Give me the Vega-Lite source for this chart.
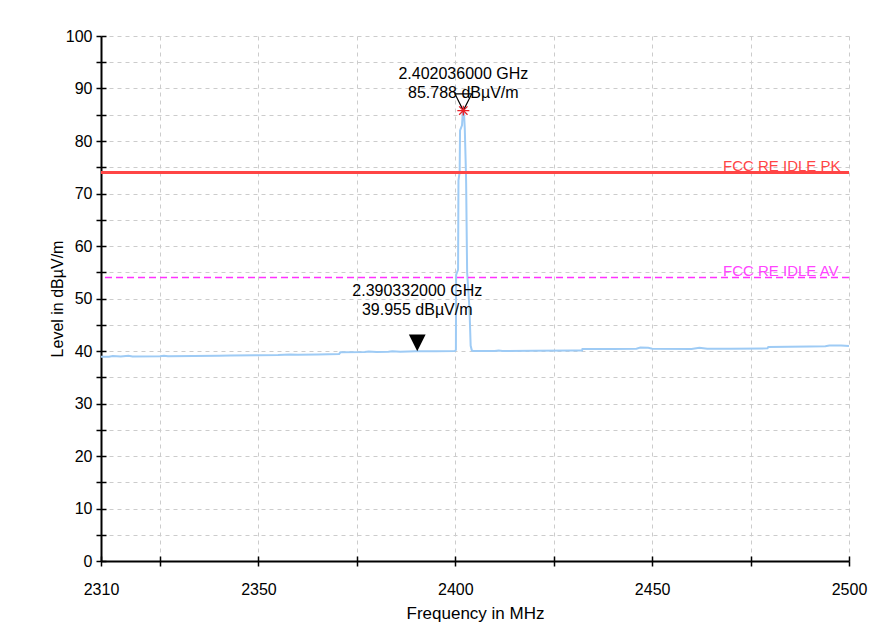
{
  "$schema": "https://vega.github.io/schema/vega-lite/v6.json",
  "width": 748,
  "height": 525,
  "autosize": {"type": "none"},
  "padding": {"left": 101, "top": 36, "right": 28, "bottom": 63},
  "background": "white",
  "config": {
    "font": "Liberation Sans",
    "view": {"stroke": null},
    "text": {"font": "Liberation Sans"}
  },
  "datasets": {
    "trace": [
      {"freq": 2310, "level": 38.9}, {"freq": 2312, "level": 38.9}, {"freq": 2313, "level": 39.05},
      {"freq": 2315, "level": 38.95}, {"freq": 2317, "level": 39.1}, {"freq": 2318, "level": 38.95},
      {"freq": 2325, "level": 39.0}, {"freq": 2326, "level": 39.1}, {"freq": 2327, "level": 39.0},
      {"freq": 2340, "level": 39.1}, {"freq": 2343, "level": 39.15}, {"freq": 2350, "level": 39.2},
      {"freq": 2355, "level": 39.25}, {"freq": 2358, "level": 39.35}, {"freq": 2360, "level": 39.3},
      {"freq": 2365, "level": 39.35}, {"freq": 2370.5, "level": 39.45}, {"freq": 2370.8, "level": 39.75},
      {"freq": 2377, "level": 39.8}, {"freq": 2378, "level": 39.9}, {"freq": 2380, "level": 39.8},
      {"freq": 2383, "level": 39.85}, {"freq": 2384, "level": 39.95}, {"freq": 2386, "level": 39.85},
      {"freq": 2390, "level": 39.95}, {"freq": 2395, "level": 39.95}, {"freq": 2399.9, "level": 40.0},
      {"freq": 2400.15, "level": 40.2}, {"freq": 2400.2, "level": 54.5}, {"freq": 2400.7, "level": 55.5},
      {"freq": 2400.8, "level": 72.5}, {"freq": 2401.1, "level": 74}, {"freq": 2401.2, "level": 82},
      {"freq": 2401.7, "level": 83}, {"freq": 2401.9, "level": 85.5}, {"freq": 2402.036, "level": 85.788},
      {"freq": 2402.2, "level": 85.3}, {"freq": 2402.4, "level": 82.5}, {"freq": 2402.7, "level": 74},
      {"freq": 2402.75, "level": 72}, {"freq": 2403.0, "level": 55}, {"freq": 2403.6, "level": 48},
      {"freq": 2403.9, "level": 41}, {"freq": 2404.2, "level": 40.1}, {"freq": 2404.5, "level": 40.0},
      {"freq": 2410, "level": 40.0}, {"freq": 2411, "level": 40.1}, {"freq": 2412, "level": 40.0},
      {"freq": 2420, "level": 40.05}, {"freq": 2430, "level": 40.1}, {"freq": 2432.2, "level": 40.1},
      {"freq": 2432.3, "level": 40.4}, {"freq": 2440, "level": 40.4}, {"freq": 2446, "level": 40.45},
      {"freq": 2447, "level": 40.65}, {"freq": 2449, "level": 40.6}, {"freq": 2450, "level": 40.45},
      {"freq": 2460, "level": 40.4}, {"freq": 2462, "level": 40.6}, {"freq": 2464, "level": 40.45},
      {"freq": 2470, "level": 40.45}, {"freq": 2479.3, "level": 40.5}, {"freq": 2479.5, "level": 40.75},
      {"freq": 2490, "level": 40.85}, {"freq": 2494, "level": 40.9}, {"freq": 2495, "level": 41.05},
      {"freq": 2498, "level": 41.05}, {"freq": 2500, "level": 40.95}
    ],
    "limits": [
      {"limit": "FCC RE IDLE PK", "level": 74, "labelFreq": 2468},
      {"limit": "FCC RE IDLE AV", "level": 54, "labelFreq": 2468}
    ],
    "markers": [
      {"marker": "M1", "freq": 2402.036, "level": 85.788, "label": "2.402036000 GHz\n85.788 dBµV/m"},
      {"marker": "M2", "freq": 2390.332, "level": 39.955, "label": "2.390332000 GHz\n39.955 dBµV/m"}
    ]
  },
  "resolve": {"axis": {"x": "independent", "y": "independent"}},
  "layer": [
    {
      "data": {"name": "trace"},
      "mark": {"type": "line", "color": "#9ecbf5", "strokeWidth": 2, "interpolate": "linear"},
      "encoding": {
        "x": {
          "field": "freq", "type": "quantitative",
          "scale": {"domain": [2310, 2500], "nice": false, "zero": false},
          "axis": {
            "values": [2310, 2325, 2350, 2375, 2400, 2425, 2450, 2475, 2500],
            "format": "d",
            "labelExpr": "indexof([2325, 2375, 2425, 2475], datum.value) >= 0 ? '' : datum.label",
            "tickSize": 5, "tickColor": "black", "tickWidth": 1.5,
            "domainColor": "black", "domainWidth": 2,
            "grid": true, "gridColor": "#cccccc", "gridDash": [4, 4], "gridWidth": 1,
            "labelFontSize": 16, "labelColor": "black", "labelPadding": 15,
            "labelFlush": false, "labelOverlap": false,
            "title": "Frequency in MHz", "titleFontSize": 17, "titleFontWeight": "normal",
            "titleColor": "black", "titlePadding": 8
          }
        },
        "y": {
          "field": "level", "type": "quantitative",
          "scale": {"domain": [0, 100], "nice": false, "zero": false},
          "axis": {
            "values": [0, 5, 10, 15, 20, 25, 30, 35, 40, 45, 50, 55, 60, 65, 70, 75, 80, 85, 90, 95, 100],
            "labelExpr": "datum.value % 10 == 0 ? datum.label : ''",
            "tickSize": 5, "tickColor": "black", "tickWidth": 1.5,
            "domainColor": "black", "domainWidth": 2,
            "grid": true, "gridColor": "#cccccc", "gridDash": [4, 4], "gridWidth": 1,
            "labelFontSize": 16, "labelColor": "black", "labelPadding": 4,
            "labelFlush": false, "labelOverlap": false,
            "title": "Level in dBµV/m", "titleFontSize": 16, "titleFontWeight": "normal",
            "titleColor": "black", "titlePadding": 0
          }
        }
      }
    },
    {
      "data": {"name": "limits"},
      "transform": [{"filter": "datum.limit == 'FCC RE IDLE PK'"}],
      "mark": {"type": "rule", "color": "#ff4545", "strokeWidth": 3},
      "encoding": {
        "y": {"field": "level", "type": "quantitative", "scale": {"domain": [0, 100]}, "axis": null}
      }
    },
    {
      "data": {"name": "limits"},
      "transform": [{"filter": "datum.limit == 'FCC RE IDLE AV'"}],
      "mark": {"type": "rule", "stroke": "#ff33ff", "strokeWidth": 1.5, "strokeDash": [7, 4], "opacity": 1},
      "encoding": {
        "y": {"field": "level", "type": "quantitative", "scale": {"domain": [0, 100]}, "axis": null}
      }
    },
    {
      "data": {"name": "limits"},
      "mark": {"type": "text", "align": "left", "baseline": "alphabetic", "dy": -2, "fontSize": 15},
      "encoding": {
        "x": {"field": "labelFreq", "type": "quantitative", "scale": {"domain": [2310, 2500]}, "axis": null},
        "y": {"field": "level", "type": "quantitative", "scale": {"domain": [0, 100]}, "axis": null},
        "text": {"field": "limit"},
        "color": {"field": "limit", "type": "nominal",
          "scale": {"domain": ["FCC RE IDLE PK", "FCC RE IDLE AV"], "range": ["#ff4545", "#ff44ff"]}, "legend": null}
      }
    },
    {
      "data": {"name": "markers"},
      "transform": [{"filter": "datum.marker == 'M2'"}],
      "mark": {"type": "point", "shape": "M-1,-2L1,-2L0,0Z", "size": 279, "filled": true, "color": "black", "opacity": 1},
      "encoding": {
        "x": {
          "field": "freq", "type": "quantitative", "scale": {"domain": [2310, 2500]},
          "axis": {"orient": "bottom", "values": [2310, 2325, 2350, 2375, 2400, 2425, 2450, 2475, 2500],
            "tickSize": -5, "tickColor": "black", "tickWidth": 1.5, "labels": false, "domain": false, "grid": false, "title": null}
        },
        "y": {
          "field": "level", "type": "quantitative", "scale": {"domain": [0, 100]},
          "axis": {"orient": "left", "values": [0, 5, 10, 15, 20, 25, 30, 35, 40, 45, 50, 55, 60, 65, 70, 75, 80, 85, 90, 95, 100],
            "tickSize": -5, "tickColor": "black", "tickWidth": 1.5, "labels": false, "domain": false, "grid": false, "title": null}
        }
      }
    },
    {
      "data": {"name": "markers"},
      "transform": [{"filter": "datum.marker == 'M1'"}],
      "mark": {"type": "point", "shape": "M-1,-2L1,-2L0,0Z", "size": 279, "filled": false, "stroke": "black", "strokeWidth": 1.2, "opacity": 1},
      "encoding": {
        "x": {"field": "freq", "type": "quantitative", "scale": {"domain": [2310, 2500]}, "axis": null},
        "y": {"field": "level", "type": "quantitative", "scale": {"domain": [0, 100]}, "axis": null}
      }
    },
    {
      "data": {"name": "markers"},
      "transform": [{"filter": "datum.marker == 'M1'"}],
      "mark": {"type": "point", "shape": "M-1,0L1,0M0,-0.8L0,0.8M-0.7,-0.7L0.7,0.7M-0.7,0.7L0.7,-0.7", "size": 144, "filled": false, "stroke": "#e8222a", "strokeWidth": 1.3, "opacity": 1},
      "encoding": {
        "x": {"field": "freq", "type": "quantitative", "scale": {"domain": [2310, 2500]}, "axis": null},
        "y": {"field": "level", "type": "quantitative", "scale": {"domain": [0, 100]}, "axis": null}
      }
    },
    {
      "data": {"name": "markers"},
      "transform": [{"filter": "datum.marker == 'M1'"}],
      "mark": {"type": "text", "align": "center", "baseline": "bottom", "dy": -28.5, "fontSize": 16, "lineBreak": "\n", "lineHeight": 18.5, "color": "black"},
      "encoding": {
        "x": {"field": "freq", "type": "quantitative", "scale": {"domain": [2310, 2500]}, "axis": null},
        "y": {"field": "level", "type": "quantitative", "scale": {"domain": [0, 100]}, "axis": null},
        "text": {"field": "label"}
      }
    },
    {
      "data": {"name": "markers"},
      "transform": [{"filter": "datum.marker == 'M2'"}],
      "mark": {"type": "text", "align": "center", "baseline": "bottom", "dy": -52, "fontSize": 16, "lineBreak": "\n", "lineHeight": 18.5, "color": "black"},
      "encoding": {
        "x": {"field": "freq", "type": "quantitative", "scale": {"domain": [2310, 2500]}, "axis": null},
        "y": {"field": "level", "type": "quantitative", "scale": {"domain": [0, 100]}, "axis": null},
        "text": {"field": "label"}
      }
    }
  ]
}
